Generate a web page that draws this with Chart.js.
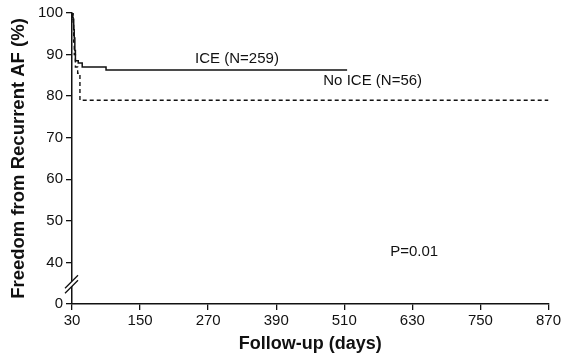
<!DOCTYPE html>
<html>
<head>
<meta charset="utf-8">
<script src="https://cdn.jsdelivr.net/npm/chart.js@4.4.0/dist/chart.umd.min.js"></script>
<style>
  html, body { margin: 0; padding: 0; background: #fff; }
  #wrap { width: 563px; height: 355px; }
</style>
</head>
<body>
<div id="wrap"><canvas id="kmChart"></canvas></div>
<script>
// follow-up day / freedom from AF (%) pairs
var iceDays = [30, 31, 32, 33, 34, 35, 36, 41, 48, 90, 515];
var iceFree = [100, 99, 98.5, 96, 94, 91, 88.5, 88, 87, 86.3, 86.3];
var noIceDays = [30, 32, 33, 34, 36, 40, 44, 870];
var noIceFree = [100, 97, 93, 90, 87, 85.5, 79, 79];

var xTicks = [30, 150, 270, 390, 510, 630, 750, 870];
var yTicks = [30, 40, 50, 60, 70, 80, 90, 100];
var yTickLabels = ['0', '40', '50', '60', '70', '80', '90', '100']; // axis is broken below 40

var notes = ['ICE (N=259)', 'No ICE (N=56)', 'P=0.01'];

function toPoints(xs, ys) {
  var pts = [];
  for (var i = 0; i < xs.length; i++) pts.push({ x: xs[i], y: ys[i] });
  return pts;
}

var FONT = "'Liberation Sans', Arial, sans-serif";
var INK = '#111';

// text labels inside the plot + the "//" break on the y axis
var extras = {
  id: 'extras',
  afterDatasetsDraw: function (chart) {
    var ctx = chart.ctx, xs = chart.scales.x, ys = chart.scales.y;
    ctx.save();
    ctx.fillStyle = INK;
    ctx.font = '15px ' + FONT;
    ctx.textBaseline = 'middle';
    ctx.textAlign = 'left';
    ctx.fillText(notes[0], xs.getPixelForValue(247), ys.getPixelForValue(89));
    ctx.fillText(notes[1], xs.getPixelForValue(473), ys.getPixelForValue(83.6));
    ctx.fillText(notes[2], xs.getPixelForValue(591), ys.getPixelForValue(42.6));

    // axis break
    var ax = xs.left, by = ys.getPixelForValue(35);
    ctx.fillStyle = '#fff';
    ctx.beginPath();
    ctx.moveTo(ax - 7, by + 5);
    ctx.lineTo(ax + 6, by - 8);
    ctx.lineTo(ax + 6, by - 3);
    ctx.lineTo(ax - 7, by + 10);
    ctx.closePath();
    ctx.fill();
    ctx.strokeStyle = INK;
    ctx.lineWidth = 1.3;
    ctx.beginPath();
    ctx.moveTo(ax - 7, by + 5); ctx.lineTo(ax + 6, by - 8);
    ctx.moveTo(ax - 7, by + 10); ctx.lineTo(ax + 6, by - 3);
    ctx.stroke();
    ctx.restore();
  }
};

new Chart(document.getElementById('kmChart'), {
  type: 'line',
  data: {
    datasets: [{
        label: 'ICE',
        data: toPoints(iceDays, iceFree),
        borderColor: INK,
        borderWidth: 1.5,
        stepped: 'before',
        pointRadius: 0,
        fill: false
      },
      {
        label: 'No ICE',
        data: toPoints(noIceDays, noIceFree),
        borderColor: INK,
        borderWidth: 1.4,
        borderDash: [4, 3],
        stepped: 'before',
        pointRadius: 0,
        fill: false
      }
    ]
  },
  options: {
    responsive: true,
    maintainAspectRatio: false,
    animation: false,
    events: [],
    layout: { padding: { top: 13, right: 14, left: 0, bottom: 0 } },
    plugins: { legend: { display: false }, tooltip: { enabled: false } },
    scales: {
      x: {
        type: 'linear',
        min: 30,
        max: 870,
        afterBuildTicks: function (s) { s.ticks = xTicks.map(function (v) { return { value: v }; }); },
        afterFit: function (s) { s.height = 51; },
        border: { color: INK, width: 1.5 },
        grid: { drawOnChartArea: false, drawTicks: true, tickLength: 6, color: INK, lineWidth: 1.3 },
        ticks: { color: INK, font: { family: FONT, size: 15 }, padding: 2, maxRotation: 0 },
        title: { display: true, text: 'Follow-up (days)', color: INK, font: { family: FONT, size: 18, weight: 'bold' }, padding: { top: 0, bottom: 0 } }
      },
      y: {
        type: 'linear',
        min: 30,
        max: 100,
        afterBuildTicks: function (s) { s.ticks = yTicks.map(function (v) { return { value: v }; }); },
        afterFit: function (s) { s.width = 72; },
        border: { color: INK, width: 1.5 },
        grid: { drawOnChartArea: false, drawTicks: true, tickLength: 6, color: INK, lineWidth: 1.3 },
        ticks: {
          color: INK,
          font: { family: FONT, size: 15 },
          padding: 3,
          callback: function (v) { return yTickLabels[yTicks.indexOf(v)]; }
        },
        title: { display: true, text: 'Freedom from Recurrent AF (%)', color: INK, font: { family: FONT, size: 18.5, weight: 'bold' }, padding: { top: 8, bottom: 0 } }
      }
    }
  },
  plugins: [extras]
});
</script>
</body>
</html>
